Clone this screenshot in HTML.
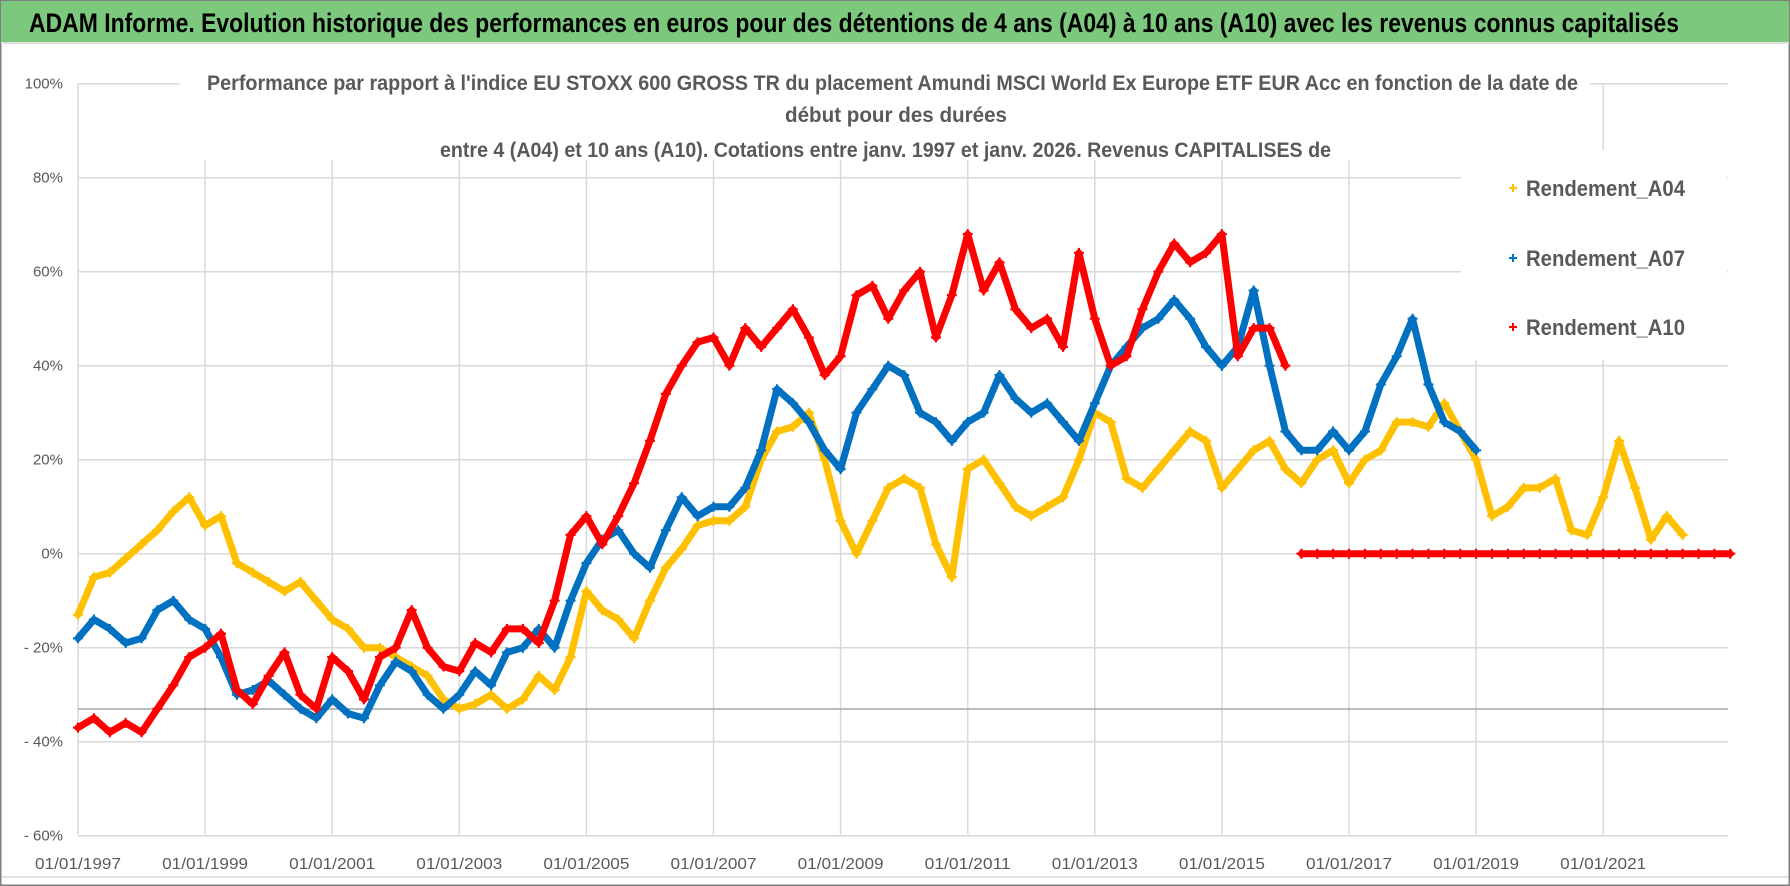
<!DOCTYPE html>
<html><head><meta charset="utf-8"><style>
html,body{margin:0;padding:0;background:#fff;}
svg{display:block;font-family:"Liberation Sans",sans-serif;}
</style></head><body>
<svg id="chart" width="1790" height="886" viewBox="0 0 1790 886">
<rect x="0" y="0" width="1790" height="886" fill="#fff" stroke="#7f7f7f" stroke-width="3"/>
<rect x="1" y="1" width="1788" height="41" fill="#7cc87c"/>
<line x1="1" y1="43" x2="1789" y2="43" stroke="#e0e0e0" stroke-width="2"/>
<text x="29" y="32" font-size="27" font-weight="bold" fill="#000" textLength="1650" lengthAdjust="spacingAndGlyphs">ADAM Informe. Evolution historique des performances en euros pour des détentions de 4 ans (A04) à 10 ans (A10) avec les revenus connus capitalisés</text>
<line x1="2" y1="877" x2="1788" y2="877" stroke="#d9d9d9" stroke-width="1.5"/>
<g id="grid"></g>
<g id="yaxis"></g>
<g id="xaxis"></g>
<g id="series"></g>
<rect x="1461" y="150" width="266" height="210" fill="#fff"/>
<rect x="180" y="68" width="1410" height="92" fill="#fff"/>
<g fill="#595959" font-weight="bold" font-size="21">
<text x="207" y="90" textLength="1371" lengthAdjust="spacingAndGlyphs">Performance par rapport à l'indice EU STOXX 600 GROSS TR  du placement Amundi MSCI World Ex Europe ETF EUR Acc  en fonction de la date de</text>
<text x="785" y="122" textLength="222" lengthAdjust="spacingAndGlyphs">début pour des durées</text>
<text x="440" y="157" textLength="891" lengthAdjust="spacingAndGlyphs">entre 4 (A04) et 10 ans (A10).  Cotations entre janv. 1997 et janv. 2026. Revenus CAPITALISES de</text>
</g>
<g id="legend"></g>
</svg>
<script>
const years=[1997,1997.25,1997.5,1997.75,1998,1998.25,1998.5,1998.75,1999,1999.25,1999.5,1999.75,2000,2000.25,2000.5,2000.75,2001,2001.25,2001.5,2001.75,2002,2002.25,2002.5,2002.75,2003,2003.25,2003.5,2003.75,2004,2004.25,2004.5,2004.75,2005,2005.25,2005.5,2005.75,2006,2006.25,2006.5,2006.75,2007,2007.25,2007.5,2007.75,2008,2008.25,2008.5,2008.75,2009,2009.25,2009.5,2009.75,2010,2010.25,2010.5,2010.75,2011,2011.25,2011.5,2011.75,2012,2012.25,2012.5,2012.75,2013,2013.25,2013.5,2013.75,2014,2014.25,2014.5,2014.75,2015,2015.25,2015.5,2015.75,2016,2016.25,2016.5,2016.75,2017,2017.25,2017.5,2017.75,2018,2018.25,2018.5,2018.75,2019,2019.25,2019.5,2019.75,2020,2020.25,2020.5,2020.75,2021,2021.25,2021.5,2021.75,2022,2022.25,2022.5,2022.75,2023];
const a04=[-13,-5,-4,-1,2,5,9,12,6,8,-2,-4,-6,-8,-6,-10,-14,-16,-20,-20,-22,-24,-26,-31,-33,-32,-30,-33,-31,-26,-29,-22,-8,-12,-14,-18,-10,-3,1,6,7,7,10,20,26,27,30,20,7,0,7,14,16,14,2,-5,18,20,15,10,8,10,12,20,30,28,16,14,18,22,26,24,14,18,22,24,18,15,20,22,15,20,22,28,28,27,32,26,20,8,10,14,14,16,5,4,12,24,14,3,8,4];
const a07=[-18,-14,-16,-19,-18,-12,-10,-14,-16,-22,-30,-29,-27,-30,-33,-35,-31,-34,-35,-28,-23,-25,-30,-33,-30,-25,-28,-21,-20,-16,-20,-10,-2,3,5,0,-3,5,12,8,10,10,14,22,35,32,28,22,18,30,35,40,38,30,28,24,28,30,38,33,30,32,28,24,32,40,44,48,50,54,50,44,40,44,56,40,26,22,22,26,22,26,36,42,50,36,28,26,22];
const a10=[-37,-35,-38,-36,-38,-33,-28,-22,-20,-17,-29,-32,-26,-21,-30,-33,-22,-25,-31,-22,-20,-12,-20,-24,-25,-19,-21,-16,-16,-19,-10,4,8,2,8,15,24,34,40,45,46,40,48,44,48,52,46,38,42,55,57,50,56,60,46,55,68,56,62,52,48,50,44,64,50,40,42,52,60,66,62,64,68,42,48,48,40,0,0,0,0,0,0,0,0,0,0,0,0,0,0,0,0,0,0,0,0,0,0,0,0,0,0,0,0];
const yTicks=[100,80,60,40,20,0,-20,-40,-60];
const yTickLabels=["100%","80%","60%","40%","20%","0%","- 20%","- 40%","- 60%"];
const xTicks=[1997,1999,2001,2003,2005,2007,2009,2011,2013,2015,2017,2019,2021];
const xTickLabels=["01/01/1997","01/01/1999","01/01/2001","01/01/2003","01/01/2005","01/01/2007","01/01/2009","01/01/2011","01/01/2013","01/01/2015","01/01/2017","01/01/2019","01/01/2021"];
const seriesNames=["Rendement_A04","Rendement_A07","Rendement_A10"];
const NS="http://www.w3.org/2000/svg";
const X0=78,X1=1728,Y0=834.5;
const xs=y=>78+(y-1997)*63.55;
const ys=v=>553.7-4.7*v;
function mk(t,a,p){const e=document.createElementNS(NS,t);for(const k in a)e.setAttribute(k,a[k]);p.appendChild(e);return e;}
const grid=document.getElementById('grid');
yTicks.forEach(v=>{const l=mk('line',{x1:X0,x2:X1,y1:ys(v),y2:ys(v),stroke:'#d9d9d9','stroke-width':1.5},grid);

});
xTicks.forEach(t=>{const l=mk('line',{x1:xs(t),x2:xs(t),y1:ys(100),y2:Y0,stroke:'#d9d9d9','stroke-width':1.5},grid);

});
const ref=mk('line',{x1:X0,x2:X1,y1:709,y2:709,stroke:'#a6a6a6','stroke-width':1.5},grid);


const ya=document.getElementById('yaxis');
yTicks.forEach((v,i)=>{const t=mk('text',{x:63,y:ys(v)+5,'text-anchor':'end','font-size':15,fill:'#595959'},ya);t.textContent=yTickLabels[i];

});
const xa=document.getElementById('xaxis');
xTicks.forEach((v,i)=>{const t=mk('text',{x:xs(v),y:869,'text-anchor':'middle','font-size':16,fill:'#595959',textLength:86,lengthAdjust:'spacingAndGlyphs'},xa);t.textContent=xTickLabels[i];

});
const colors=['#FFC000','#0070C0','#FF0000'];
const data=[a04,a07,a10];
const sg=document.getElementById('series');
data.forEach((arr,si)=>{
  const g=mk('g',{},sg);
  
  
  let d='';
  arr.forEach((v,i)=>{const px=xs(years[i]).toFixed(1),py=ys(v).toFixed(1);
    const brk=i===0||Math.abs(v-arr[i-1])>35;
    d+=(brk?'M':'L')+px+','+py;});
  const pl=mk('path',{d:d,fill:'none',stroke:colors[si],'stroke-width':7,'stroke-linejoin':'round','stroke-linecap':'round'},g);
  
  
  arr.forEach((v,i)=>{const cx=xs(years[i]),cy=ys(v);
    const p=mk('path',{d:`M${cx-5},${cy}h10M${cx},${cy-5}v10`,stroke:colors[si],'stroke-width':2.2},g);
    
    });
});
const lg=document.getElementById('legend');
seriesNames.forEach((n,i)=>{const y=[188,258,327][i];
  const m=mk('path',{d:`M1509,${y}h8M1513,${y-4}v8`,stroke:colors[i],'stroke-width':2},lg);
  
  
  const t=mk('text',{x:1526,y:y+8,'font-size':22,'font-weight':'bold',fill:'#595959',textLength:159,lengthAdjust:'spacingAndGlyphs'},lg);t.textContent=n;
  
  });
</script>
</body></html>
